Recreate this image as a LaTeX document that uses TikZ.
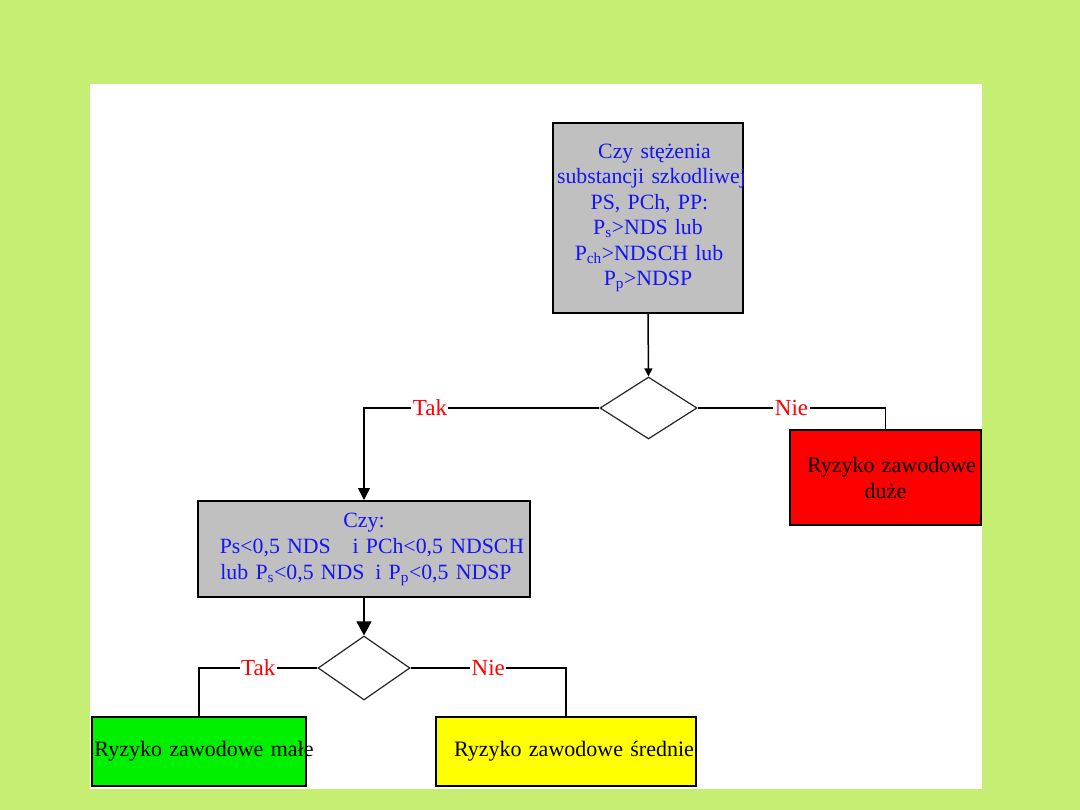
\documentclass[tikz,border=0pt]{standalone}
\usepackage{fontspec}
\setmainfont{Liberation Serif}
\usetikzlibrary{shapes.geometric,arrows.meta}
\definecolor{slidebg}{RGB}{198,238,115}
\definecolor{boxgray}{RGB}{192,192,192}
\definecolor{txtblue}{RGB}{20,20,245}
\definecolor{riskred}{RGB}{255,0,0}
\definecolor{riskgreen}{RGB}{0,240,0}
\definecolor{riskyellow}{RGB}{255,255,0}
\newcommand{\ctrline}[2][0pt]{\hspace*{#1}\makebox[0pt]{#2}}
\tikzset{
  qbox/.style={draw=black, line width=2pt, fill=boxgray, text=txtblue, align=center, inner sep=0pt,
    font=\fontsize{21.8}{25.5}\selectfont},
  rbox/.style={draw=black, line width=2pt, align=center, inner sep=0pt, text=black,
    font=\fontsize{22}{26}\selectfont},
  dec/.style={draw=black!85, line width=1.2pt, shape=diamond, inner sep=0pt, fill=white},
  conn/.style={draw=black, line width=1.5pt},
  lbl/.style={fill=white, text=riskred, inner sep=1.5pt, font=\fontsize{23}{24}\selectfont},
}
\begin{document}
\begin{tikzpicture}[x=1pt,y=-1pt]
\useasboundingbox (0,0) rectangle (1080,810);
\fill[slidebg] (0,0) rectangle (1080,810);
\fill[white] (90,84) rectangle (982,789);

\node[qbox, text width=190pt, minimum height=190pt] (q1) at (648,218)
  {\ctrline[13pt]{Czy stężenia}\\\ctrline[7pt]{substancji szkodliwej}\\\ctrline[3pt]{PS, PCh, PP:}\\\ctrline{P\textsubscript{s}>NDS lub}\\\ctrline[2pt]{P\textsubscript{ch}>NDSCH lub}\\\ctrline{P\textsubscript{p}>NDSP}};

\node[dec, minimum width=97pt, minimum height=62pt] (d1) at (648.5,408) {};

\node[rbox, fill=riskred, text width=191pt, minimum height=95pt] (big) at (885.5,477.5)
  {\ctrline[12pt]{Ryzyko zawodowe}\\\ctrline{duże}};

\node[qbox, text width=332pt, minimum height=96pt, font=\fontsize{21.8}{26}\selectfont] (q2) at (364,549)
  {\ctrline{Czy:}\\\ctrline[16pt]{Ps<0,5 NDS\quad i PCh<0,5 NDSCH}\\\ctrline[4pt]{lub P\textsubscript{s}<0,5 NDS\enspace i P\textsubscript{p}<0,5 NDSP}};

\node[dec, minimum width=92pt, minimum height=64pt] (d2) at (364,668) {};

\node[rbox, fill=riskgreen, text width=214pt, minimum height=69pt] (small) at (199,751.5)
  {\ctrline[10pt]{Ryzyko zawodowe małe}};

\node[rbox, fill=riskyellow, text width=260pt, minimum height=69pt] (mid) at (566,751.5)
  {\ctrline[16pt]{Ryzyko zawodowe średnie}};

\draw[conn, -{Triangle[length=8pt,width=8pt]}] (q1.south) -- (d1.north);
\draw[conn, -{Triangle[length=12pt,width=12pt]}] (d1.west) -| node[lbl, pos=0.36] {Tak} (q2.north);
\draw[conn] (d1.east) -| node[lbl, pos=0.25] {Nie} (big.north);
\draw[conn, -{Triangle[length=14pt,width=15pt]}] (q2.south) -- (d2.north);
\draw[conn] (d2.west) -| node[lbl, pos=0.25] {Tak} (small.north);
\draw[conn] (d2.east) -| node[lbl, pos=0.25] {Nie} (mid.north);
\end{tikzpicture}
\end{document}
